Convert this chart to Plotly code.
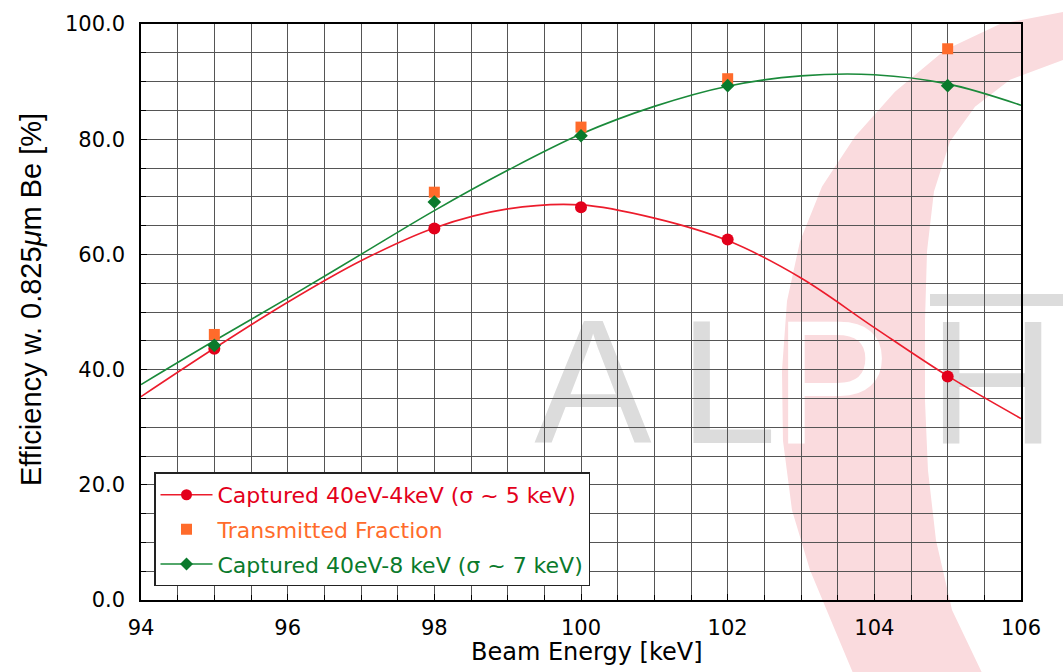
import plotly.graph_objects as go

# ---- data ----
energy_pts = [95, 98, 100, 102, 105]
captured_4kev = [43.6, 64.5, 68.2, 62.6, 38.8]
transmitted = [46.1, 70.8, 82.1, 90.5, 95.7]
captured_8kev = [44.2, 69.1, 80.6, 89.3, 89.3]

fit_energy = [94, 95, 96, 97, 98, 99, 100, 101, 102, 103, 104, 105, 106]
fit_4kev = [35.3, 43.7, 51.7, 58.9, 64.6, 67.9, 68.6, 66.3, 62.4, 55.9, 47.3, 38.9, 31.5]
fit_8kev = [37.4, 45.0, 52.4, 60.0, 67.6, 74.6, 80.9, 85.7, 89.2, 91.0, 91.2, 89.6, 85.9]

x_ticks = [94, 96, 98, 100, 102, 104, 106]
y_ticks = [0, 20, 40, 60, 80, 100]

names = ["Captured 40eV-4keV (σ ~ 5 keV)", "Transmitted Fraction",
         "Captured 40eV-8 keV (σ ~ 7 keV)"]

RED = "#e3001b"
ORANGE = "#ff6b2b"
GREEN = "#0a7a2c"
RED_LINE = "#ec1c2c"
GREEN_LINE = "#1a8a3a"

W, H = 1063, 672
L, R, T, B = 141, 42, 22, 72
PW, PH = W - L - R, H - T - B


def px(x, y):
    return (x - L) / PW, (H - B - y) / PH


fig = go.Figure()

# fitted curves
fig.add_trace(go.Scatter(x=fit_energy, y=fit_4kev, mode="lines", line=dict(color=RED_LINE, width=1.6, shape="spline"),
                         showlegend=False, hoverinfo="skip"))
fig.add_trace(go.Scatter(x=fit_energy, y=fit_8kev, mode="lines", line=dict(color=GREEN_LINE, width=1.6, shape="spline"),
                         showlegend=False, hoverinfo="skip"))

# measured points
fig.add_trace(go.Scatter(x=energy_pts, y=transmitted, mode="markers",
                         marker=dict(symbol="square", size=11, color=ORANGE), showlegend=False))
fig.add_trace(go.Scatter(x=energy_pts, y=captured_4kev, mode="markers",
                         marker=dict(symbol="circle", size=12, color=RED), showlegend=False))
fig.add_trace(go.Scatter(x=energy_pts, y=captured_8kev, mode="markers",
                         marker=dict(symbol="diamond", size=10.5, color=GREEN), showlegend=False))

# legend entries
fig.add_trace(go.Scatter(x=[None], y=[None], mode="lines+markers", legendgroup="a",
                         line=dict(color=RED_LINE, width=1.6), marker=dict(symbol="circle", size=11, color=RED),
                         name=f'<span style="color:{RED}">{names[0]}</span>'))
fig.add_trace(go.Scatter(x=[None], y=[None], mode="markers", legendgroup="b",
                         marker=dict(symbol="square", size=11, color=ORANGE),
                         name=f'<span style="color:{ORANGE}">{names[1]}</span>'))
fig.add_trace(go.Scatter(x=[None], y=[None], mode="lines+markers", legendgroup="c",
                         line=dict(color=GREEN_LINE, width=1.6), marker=dict(symbol="diamond", size=10, color=GREEN),
                         name=f'<span style="color:{GREEN}">{names[2]}</span>'))

# ---- watermark (logo) ----
outer = [(1100, 0), (1063, 10), (1000, 22), (945, 48), (895, 90), (855, 135), (822, 185), (800, 240),
         (787, 300), (782, 370), (783, 440), (792, 510), (810, 570), (835, 630), (860, 690)]
inner = [(990, 690), (952, 610), (936, 540), (928, 470), (925, 400), (925, 320), (927, 250),
         (934, 190), (950, 140), (975, 105), (1010, 78), (1063, 58), (1100, 52)]
pts = outer + inner
path = "M " + " L ".join(f"{px(a, b)[0]:.4f},{px(a, b)[1]:.4f}" for a, b in pts) + " Z"

shapes = []
GRAY = "#dcdcdc"
# gray letters
letters = [("A", 528, 658), ("L", 674, 782), ("H", 922, 1062)]
for ch, x0, x1 in letters:
    p0 = px(x0, 425)
    p1 = px(x1, 303)
    shapes.append(dict(type="rect", xref="paper", yref="paper", x0=p0[0], x1=p1[0], y0=p0[1], y1=p1[1],
                       line=dict(width=0), fillcolor="rgba(0,0,0,0)", layer="below",
                       label=dict(text=ch, font=dict(family="Liberation Sans", size=176, color=GRAY),
                                  textposition="middle center")))
# top bar over H
b0 = px(930, 305)
b1 = px(1100, 293)
shapes.append(dict(type="rect", xref="paper", yref="paper", x0=b0[0], x1=b1[0], y0=b0[1], y1=b1[1],
                   line=dict(width=0), fillcolor=GRAY, layer="below"))
# pink arc
shapes.append(dict(type="path", xref="paper", yref="paper", path=path, fillcolor="#fadbde",
                   line=dict(width=0), layer="below"))
# white P
p0 = px(775, 425)
p1 = px(890, 303)
shapes.append(dict(type="rect", xref="paper", yref="paper", x0=p0[0], x1=p1[0], y0=p0[1], y1=p1[1],
                   line=dict(width=0), fillcolor="rgba(0,0,0,0)", layer="below",
                   label=dict(text="P", font=dict(family="Liberation Sans", size=176, color="white"),
                              textposition="middle center")))

tick_font = dict(family="DejaVu Sans", size=21, color="black")
grid_col = "#555555"

fig.update_layout(
    width=W, height=H,
    margin=dict(l=L, r=R, t=T, b=B),
    paper_bgcolor="white", plot_bgcolor="white",
    shapes=shapes,
    showlegend=True,
    legend=dict(x=px(154, 0)[0], y=px(0, 472)[1], xanchor="left", yanchor="top",
                bgcolor="white", bordercolor="#222222", borderwidth=1.5,
                font=dict(family="DejaVu Sans", size=22), tracegroupgap=3, itemwidth=52),
    xaxis=dict(range=[94, 106], tickmode="array", tickvals=x_ticks, ticktext=[str(v) for v in x_ticks],
               tickfont=tick_font, showgrid=True, gridcolor=grid_col, gridwidth=1,
               ticks="inside", ticklen=6, tickcolor="black",
               minor=dict(dtick=0.5, showgrid=True, gridcolor=grid_col, gridwidth=1, ticks="inside", ticklen=5, tickcolor="black"),
               showline=True, linecolor="black", linewidth=1.5, mirror=True, zeroline=False, ticklabelstandoff=8),
    yaxis=dict(range=[0, 100], tickmode="array", tickvals=y_ticks, ticktext=[f"{v:.1f}" for v in y_ticks],
               tickfont=tick_font, showgrid=True, gridcolor=grid_col, gridwidth=1,
               ticks="inside", ticklen=6, tickcolor="black",
               minor=dict(dtick=5, showgrid=True, gridcolor=grid_col, gridwidth=1, ticks="inside", ticklen=5, tickcolor="black"),
               showline=True, linecolor="black", linewidth=1.5, mirror=True, zeroline=False, ticklabelstandoff=10),
    annotations=[
        dict(text="Beam Energy [keV]", xref="paper", yref="paper", x=px(587, 0)[0], y=px(0, 652)[1],
             xanchor="center", yanchor="middle", showarrow=False,
             font=dict(family="DejaVu Sans", size=24, color="black")),
        dict(text="Efficiency w. 0.825<i>μ</i>m Be [%]", xref="paper", yref="paper", x=px(31, 0)[0], y=px(0, 299)[1],
             xanchor="center", yanchor="middle", showarrow=False, textangle=-90,
             font=dict(family="Liberation Sans", size=29, color="black")),
    ],
)

fig.write_html("out.html")
